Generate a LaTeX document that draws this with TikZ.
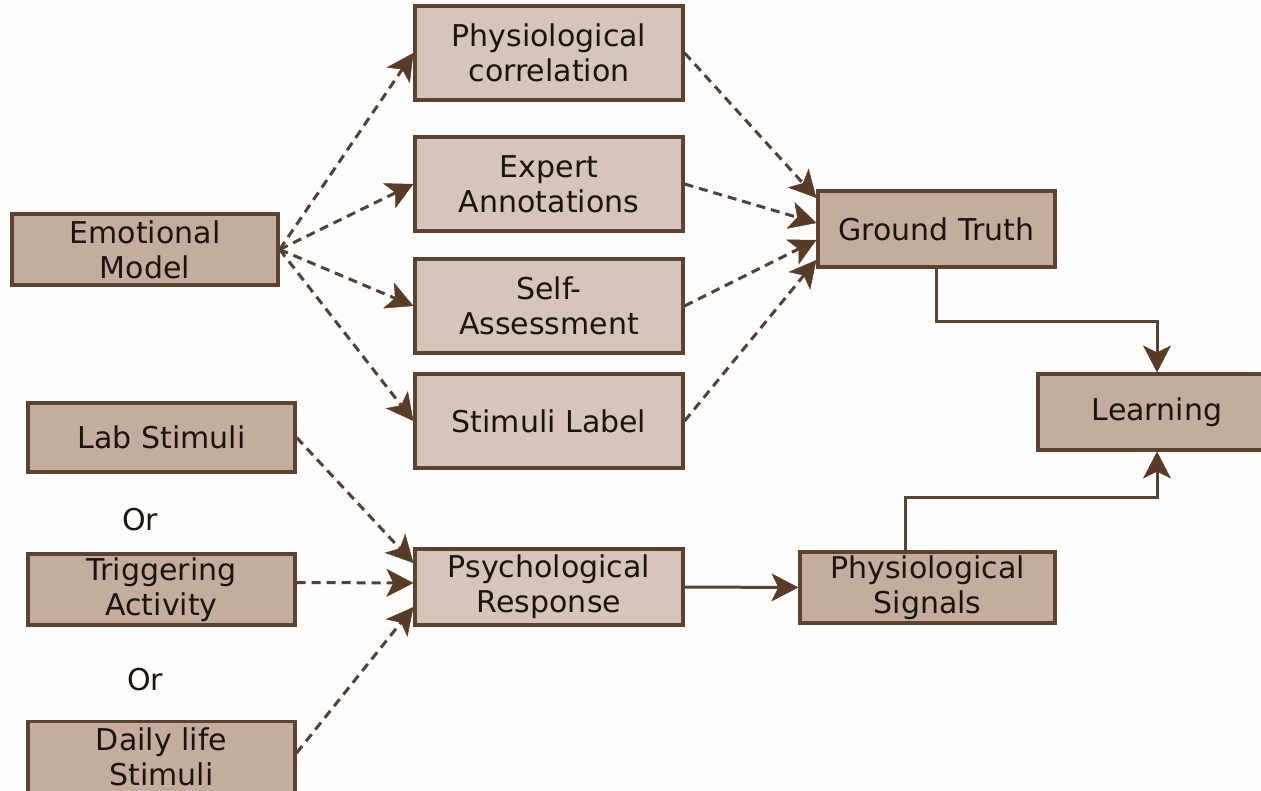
\documentclass[tikz,border=0pt]{standalone}
\usepackage{fontspec}
\setmainfont{DejaVu Sans}
\usepackage{tikz}
\usetikzlibrary{arrows.meta}
\definecolor{boxdark}{RGB}{196,173,158}
\definecolor{boxlight}{RGB}{213,197,186}
\definecolor{edge}{RGB}{92,66,48}
\definecolor{dashcol}{RGB}{80,66,58}
\definecolor{tipcol}{RGB}{88,60,40}
\definecolor{paper}{RGB}{254,253,251}
\definecolor{ink}{RGB}{28,20,15}
\tikzset{
  labeltext/.style={text=ink, font=\fontsize{30}{35}\selectfont},
  box/.style={labeltext, draw=edge, line width=3.2pt, minimum width=268pt, minimum height=94pt, inner sep=0pt, align=center},
  darkbox/.style={box, fill=boxdark},
  lightbox/.style={box, fill=boxlight},
  arrowtip/.style={-{Stealth[length=27pt,width=28pt,inset=7pt,line width=0.5pt,color=tipcol]}},
  dasharrow/.style={arrowtip, draw=dashcol, line width=3pt, dash pattern=on 9pt off 6pt},
  solidarrow/.style={arrowtip, draw=edge, line width=3pt},
}

\begin{document}
\begin{tikzpicture}[x=1pt,y=-1pt]
\useasboundingbox (0,0) rectangle (1261,791);
\clip (0,0) rectangle (1261,791);
\fill[paper] (0,0) rectangle (1261,791);

\node[darkbox, minimum width=266pt, minimum height=71pt] (emo) at (145,249.5) {Emotional\\Model};
\node[lightbox] (pcorr) at (549,53) {Physiological\\correlation};
\node[lightbox] (expert) at (549,184) {Expert\\Annotations};
\node[lightbox] (self) at (549,306) {Self-\\Assessment};
\node[lightbox] (stlabel) at (549,421) {Stimuli Label};
\node[darkbox, minimum width=237pt, minimum height=76pt] (gt) at (936.5,229) {Ground Truth};
\node[darkbox, minimum width=238pt, minimum height=76pt] (learn) at (1157,412) {Learning};

\node[darkbox, minimum width=267pt, minimum height=69pt] (lab) at (161.5,437.5) {Lab Stimuli};
\node[labeltext] (or1) at (140,520) {Or};
\node[darkbox, minimum width=267pt, minimum height=71pt] (trig) at (161.5,589.5) {Triggering\\Activity};
\node[labeltext] (or2) at (145,680) {Or};
\node[darkbox, minimum width=267pt, minimum height=71pt] (daily) at (161.5,757) {Daily life\\Stimuli};
\node[lightbox, minimum height=76pt] (psych) at (549,587) {Psychological\\Response};
\node[darkbox, minimum width=255pt, minimum height=71pt] (signals) at (927.5,587.5) {Physiological\\Signals};

\foreach \t in {pcorr,expert,self,stlabel} {
\draw[dasharrow] (emo.east) -- (\t.west);
}
\foreach \s/\y in {pcorr/31,expert/6,self/-11,stlabel/-31} {
\draw[dasharrow] (\s.east) -- ([yshift=\y pt]gt.west);
}
\draw[dasharrow] (lab.east) -- ([yshift=24pt]psych.west);
\draw[dasharrow] ([yshift=7pt]trig.east) -- ([yshift=4pt]psych.west);
\draw[dasharrow] ([yshift=4pt]daily.east) -- ([yshift=-20pt]psych.west);

\draw[solidarrow] (psych.east) -- (signals.west);
\draw[solidarrow] (gt.south) -- ++(0,53) -| (learn.north);
\draw[solidarrow] ([xshift=-22pt]signals.north) -- ++(0,-53) -| (learn.south);
\end{tikzpicture}
\end{document}
